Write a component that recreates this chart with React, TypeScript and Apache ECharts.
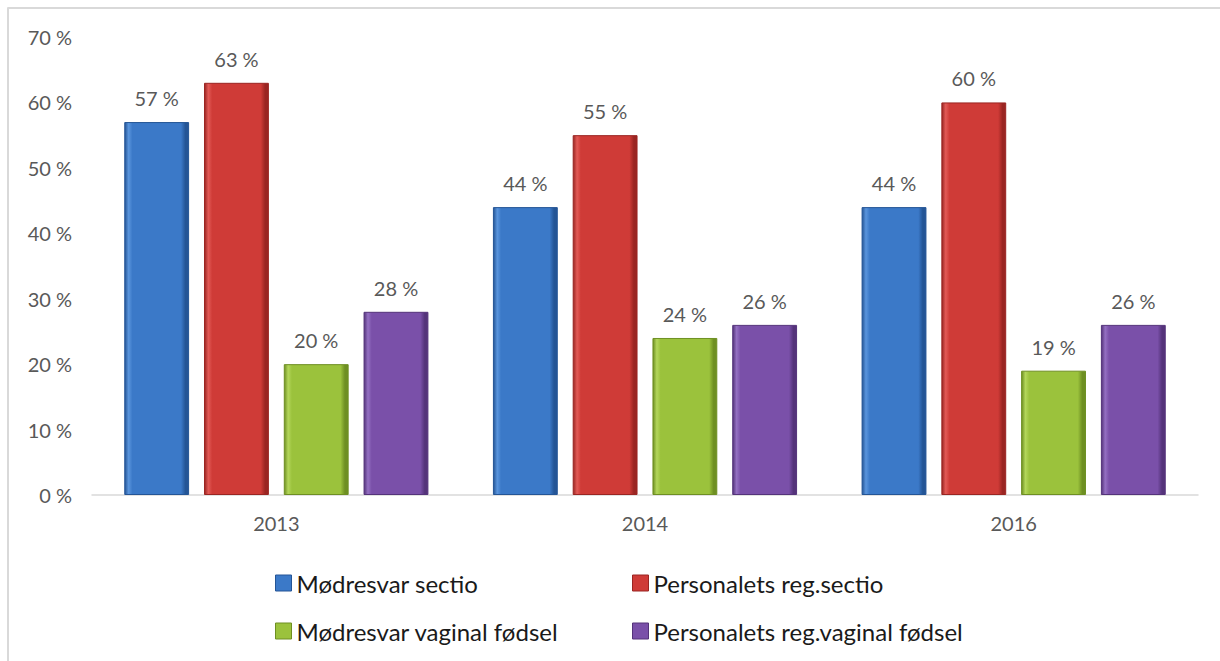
import React, { useEffect, useRef } from "react";
import * as echarts from "echarts";

const categories = ["2013", "2014", "2016"];
const seriesNames = [
  "Mødresvar sectio",
  "Personalets reg.sectio",
  "Mødresvar vaginal fødsel",
  "Personalets reg.vaginal fødsel",
];
const modresvarSectio = [57, 44, 44];
const personaletsSectio = [63, 55, 60];
const modresvarVaginal = [20, 24, 19];
const personaletsVaginal = [28, 26, 26];
const yTicks = [0, 10, 20, 30, 40, 50, 60, 70];

const baseColors = ["#3b79c8", "#cf3b37", "#9bc23c", "#7a50a9"];
const edgeColors = ["#245596", "#9a2522", "#6e8f22", "#54337a"];
const lightColors = ["#5a95dd", "#e25a56", "#b3d65a", "#9470c2"];

function bevel(i: number) {
  return new echarts.graphic.LinearGradient(0, 0, 1, 0, [
    { offset: 0, color: edgeColors[i] },
    { offset: 0.06, color: lightColors[i] },
    { offset: 0.12, color: baseColors[i] },
    { offset: 0.88, color: baseColors[i] },
    { offset: 0.95, color: edgeColors[i] },
    { offset: 1, color: edgeColors[i] },
  ]);
}

export default function App() {
  const ref = useRef<HTMLDivElement>(null);
  useEffect(() => {
    if (!ref.current) return;
    const chart = echarts.init(ref.current, null, { renderer: "svg" });
    const values = [modresvarSectio, personaletsSectio, modresvarVaginal, personaletsVaginal];
    const font = "Lato, 'Noto Sans', sans-serif";
    const legendPos = [
      { left: 275, top: 571 },
      { left: 632, top: 571 },
      { left: 275, top: 619 },
      { left: 632, top: 619 },
    ];
    chart.setOption({
      animation: false,
      backgroundColor: "#ffffff",
      textStyle: { fontFamily: font },
      grid: { left: 92, right: 22, top: 37, bottom: 166, containLabel: false },
      xAxis: {
        type: "category",
        data: categories,
        axisLine: { lineStyle: { color: "#d9d9d9", width: 1.5 } },
        axisTick: { show: false },
        axisLabel: { color: "#595959", fontSize: 20, margin: 18, fontFamily: font },
      },
      yAxis: {
        type: "value",
        min: yTicks[0],
        max: yTicks[yTicks.length - 1],
        interval: 10,
        splitLine: { show: false },
        axisLine: { show: false },
        axisTick: { show: false },
        axisLabel: {
          color: "#595959",
          fontSize: 20,
          margin: 20,
          fontFamily: font,
          formatter: (v: number) => `${v} %`,
        },
      },
      legend: seriesNames.map((n, i) => ({
        data: [{ name: n, itemStyle: { color: baseColors[i], borderColor: edgeColors[i], borderWidth: 1 } }],
        left: legendPos[i].left,
        top: legendPos[i].top,
        icon: "rect",
        itemWidth: 16,
        itemHeight: 16,
        itemGap: 0,
        padding: 0,
        textStyle: { color: "#1a1a1a", fontSize: 24, fontFamily: font },
        selectedMode: false,
      })),
      series: seriesNames.map((n, i) => ({
        name: n,
        type: "bar",
        data: values[i],
        barGap: "23%",
        barCategoryGap: "17.5%",
        itemStyle: { color: bevel(i), borderColor: edgeColors[i], borderWidth: 1 },
        label: {
          show: true,
          position: "top",
          distance: 14,
          color: "#595959",
          fontSize: 20,
          fontFamily: font,
          formatter: (p: any) => `${p.value} %`,
        },
      })),
      graphic: [
        { type: "line", shape: { x1: 7.5, y1: 8, x2: 1220, y2: 8 }, style: { stroke: "#d9d9d9", lineWidth: 2 } },
        { type: "line", shape: { x1: 8, y1: 7.5, x2: 8, y2: 661 }, style: { stroke: "#d9d9d9", lineWidth: 2 } },
      ],
    });
    return () => chart.dispose();
  }, []);
  return (
    <div
      ref={ref}
      style={{ position: "absolute", left: 0, top: 0, width: 1220, height: 661 }}
    />
  );
}
